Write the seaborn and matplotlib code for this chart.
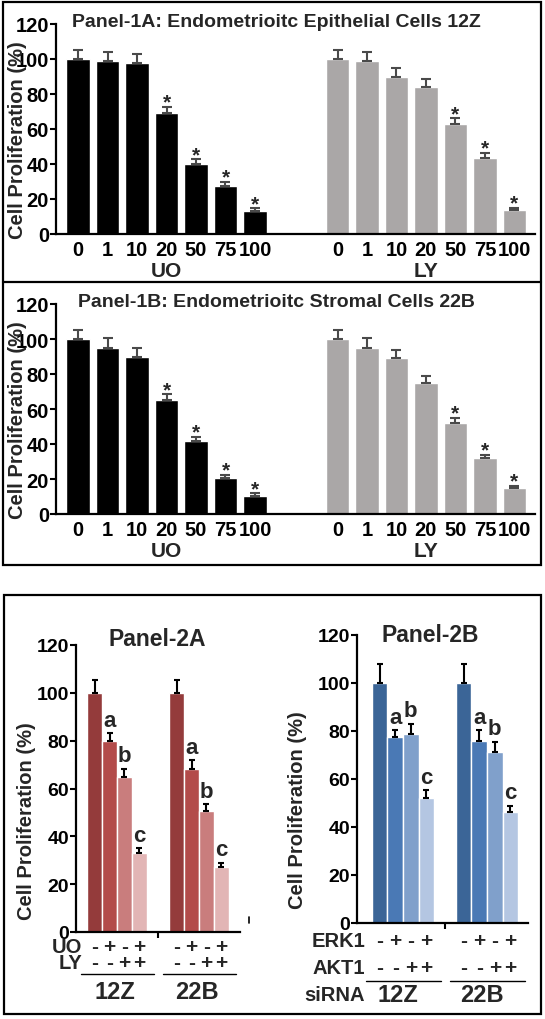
import numpy as np
import pandas as pd
import matplotlib
matplotlib.use('Agg')
import matplotlib.pyplot as plt
import matplotlib.transforms as mtransforms
from matplotlib.patches import Rectangle
from matplotlib.lines import Line2D
import seaborn as sns

sns.set_theme(style='ticks')
plt.rcParams['font.family'] = ['Liberation Sans', 'DejaVu Sans']
plt.rcParams['font.weight'] = 'bold'
plt.rcParams['axes.labelweight'] = 'bold'

# panel 1 : dose response, values in % of control
doses = ['0', '1', '10', '20', '50', '75', '100']

uo_12z = [100, 99, 98, 69, 40, 27.3, 13.3]
uo_12z_err = [5.3, 5, 5, 3.8, 2.6, 2.6, 1.3]
uo_12z_sig = ['', '', '', '*', '*', '*', '*']
ly_12z = [100, 99, 90, 84, 63, 43.5, 13.5]
ly_12z_err = [5.3, 5, 4.8, 4.8, 3.2, 2.8, 1.4]
ly_12z_sig = ['', '', '', '', '*', '*', '*']

uo_22b = [100, 95, 90, 65, 42, 20.4, 10.3]
uo_22b_err = [5.3, 5.4, 5, 3.5, 2.2, 1.9, 1.5]
uo_22b_sig = ['', '', '', '*', '*', '*', '*']
ly_22b = [100, 95, 89, 75, 52, 32, 15]
ly_22b_err = [5.3, 5.4, 5, 4, 3, 1.8, 1.2]
ly_22b_sig = ['', '', '', '', '*', '*', '*']

# panel 2 : combinations
lines = ['12Z', '22B']
conds = ['ctl', 'first', 'second', 'both']
uo_sign = ['-', '+', '-', '+']
ly_sign = ['-', '-', '+', '+']
letters = ['', 'a', 'b', 'c']

p2a_12z = [100, 80, 65, 33]
p2a_12z_err = [5.4, 3, 3.3, 2]
p2a_22b = [100, 68.2, 50.5, 27.2]
p2a_22b_err = [5.4, 3.6, 2.9, 1.8]

p2b_12z = [100, 77.7, 78.7, 52]
p2b_12z_err = [7.9, 2.7, 4.4, 3.4]
p2b_22b = [100, 75.7, 71.2, 46.3]
p2b_22b_err = [7.9, 4.6, 4.4, 2.5]

red_pal = ['#943b3b', '#b34b4a', '#c97d7d', '#e2b5b5']
blue_pal = ['#3b6597', '#4a79b5', '#80a0cb', '#b4c6e2']

W, H = 545, 1020
fig = plt.figure(figsize=(W / 100, H / 100), dpi=100)


def px_rect(left, top, right, bottom):
    return [left / W, 1 - bottom / H, (right - left) / W, (bottom - top) / H]


def px(x, y):
    return x / W, 1 - y / H


def style_axis(ax, fs=14):
    sns.despine(ax=ax)
    for s in ['left', 'bottom']:
        ax.spines[s].set_linewidth(1.6)
        ax.spines[s].set_color('black')
    ax.set_ylim(0, 120)
    ax.set_yticks(range(0, 121, 20))
    ax.tick_params(axis='y', length=4, width=1.5, pad=1, labelsize=fs, colors='black')
    for t in ax.get_yticklabels():
        t.set_fontweight('bold')


def dose_panel(ax, uo, uo_err, uo_sig, ly, ly_err, ly_sig, title):
    pos = np.r_[np.arange(len(doses)), np.arange(len(doses)) + 8.8]
    vals = uo + ly
    errs = uo_err + ly_err
    sigs = uo_sig + ly_sig
    df = pd.DataFrame({'pos': pos, 'value': vals,
                       'drug': ['UO'] * len(uo) + ['LY'] * len(ly)})
    sns.barplot(data=df, x='pos', y='value', hue='drug', native_scale=True,
                palette={'UO': 'black', 'LY': '#aaa7a7'}, dodge=False,
                width=0.8, saturation=1, errorbar=None, legend=False, ax=ax)
    ax.errorbar(pos, vals, yerr=[np.zeros(len(errs)), errs], fmt='none',
                ecolor='#4a4a4a', elinewidth=1.5, capsize=3.5, capthick=1.5)
    for p, v, e, s in zip(pos, vals, errs, sigs):
        if s:
            ax.text(p, v + e - 0.5, s, ha='center', va='baseline', fontsize=15)
    style_axis(ax, fs=14.5)
    ax.set_xlim(-0.75, 15.5)
    ax.set_xticks(pos)
    ax.set_xticklabels(doses * 2, fontsize=14.5, fontweight='bold')
    ax.tick_params(axis='x', length=0, pad=4, colors='black')
    ax.set_xlabel('')
    ax.set_ylabel('Cell Proliferation (%)', fontsize=14.5, labelpad=0)
    ax.yaxis.set_label_coords(-0.06, 0.45)
    tr = mtransforms.blended_transform_factory(ax.transData, ax.transAxes)
    ax.text(pos[:7].mean(), -0.175, 'UO', transform=tr, ha='center', va='center', fontsize=15)
    ax.text(pos[7:].mean(), -0.175, 'LY', transform=tr, ha='center', va='center', fontsize=15)
    ax.text(0.46, 1.013, title, transform=ax.transAxes, ha='center', va='center', fontsize=14)


ax1 = fig.add_axes(px_rect(56, 25, 535, 235))
dose_panel(ax1, uo_12z, uo_12z_err, uo_12z_sig, ly_12z, ly_12z_err, ly_12z_sig,
           'Panel-1A: Endometrioitc Epithelial Cells 12Z')
ax2 = fig.add_axes(px_rect(56, 305, 535, 515))
dose_panel(ax2, uo_22b, uo_22b_err, uo_22b_sig, ly_22b, ly_22b_err, ly_22b_sig,
           'Panel-1B: Endometrioitc Stromal Cells 22B')


def combo_panel(ax, v12, e12, v22, e22, palette, title, width, xlim, title_xy,
                row_names, row_y, under_y, name_y, name_dx, label_x, extra=None):
    df = pd.DataFrame({'line': ['12Z'] * 4 + ['22B'] * 4,
                       'cond': conds * 2, 'value': v12 + v22})
    sns.barplot(data=df, x='line', y='value', hue='cond', order=lines,
                hue_order=conds, palette=palette, width=width, saturation=1,
                errorbar=None, legend=False, ax=ax)
    ax.set_xlim(*xlim)
    bars = list(ax.containers)
    vals = [v12, v22]
    errs = [e12, e22]
    row_signs = [uo_sign, ly_sign]
    tr = mtransforms.blended_transform_factory(ax.transData, ax.transAxes)
    for i, cont in enumerate(bars):
        for j, bar in enumerate(cont):
            x = bar.get_x() + bar.get_width() / 2
            v, e = vals[j][i], errs[j][i]
            ax.errorbar([x], [v], yerr=[[0], [e]], fmt='none', ecolor='black',
                        elinewidth=1.5, capsize=2.5, capthick=1.5)
            if letters[i]:
                ax.text(x, v + e + 1, letters[i], ha='center', va='bottom', fontsize=16)
            for signs, yy in zip(row_signs, row_y):
                ax.text(x, yy, signs[i], transform=tr, ha='center', va='center', fontsize=15)
    for j, name in enumerate(lines):
        ax.add_line(Line2D([j - 0.44, j + 0.45], [under_y, under_y], transform=tr,
                           color='black', lw=1, clip_on=False))
        ax.text(j + name_dx, name_y, name, transform=tr, ha='center', va='center', fontsize=17)
    for name, yy in zip(row_names, row_y):
        ax.text(label_x, yy, name, transform=tr, ha='right', va='center', fontsize=14.5)
    if extra:
        ax.text(label_x, name_y, extra, transform=tr, ha='right', va='center', fontsize=14.5)
    style_axis(ax)
    ax.set_xticks([0.5])
    ax.set_xticklabels([''])
    ax.tick_params(axis='x', length=4, width=1.5, colors='black')
    ax.set_xlabel('')
    ax.set_ylabel('Cell Proliferation (%)', fontsize=14.5)
    ax.text(title_xy[0], title_xy[1], title, transform=ax.transAxes,
            ha='center', va='center', fontsize=16.5)


ax3 = fig.add_axes(px_rect(76, 646, 240, 933))
combo_panel(ax3, p2a_12z, p2a_12z_err, p2a_22b, p2a_22b_err, red_pal, 'Panel-2A', 0.73,
            (-0.5, 1.5), (0.494, 1.021),
            ['UO', 'LY'], [-0.052, -0.105], -0.146, -0.206, -0.03, -0.427)
ax3.yaxis.set_label_coords(-0.245, 0.39)

ax4 = fig.add_axes(px_rect(357, 636, 528, 924))
combo_panel(ax4, p2b_12z, p2b_12z_err, p2b_22b, p2b_22b_err, blue_pal, 'Panel-2B', 0.74,
            (-0.548, 1.488), (0.43, 1.0),
            ['ERK1', 'AKT1'], [-0.0625, -0.153], -0.201, -0.25, -0.06, -0.453,
            extra='siRNA')
ax4.yaxis.set_label_coords(-0.29, 0.395)

# frames around the two figure blocks
for (l, t, r, b) in [(3, 3, 541, 566), (4, 596, 541, 1015)]:
    x0, y0 = px(l, b)
    x1, y1 = px(r, t)
    fig.add_artist(Rectangle((x0, y0), x1 - x0, y1 - y0, transform=fig.transFigure,
                             fill=False, edgecolor='black', lw=1.6))
fig.add_artist(Line2D([px(3, 0)[0], px(541, 0)[0]], [px(0, 283)[1]] * 2,
                      transform=fig.transFigure, color='black', lw=1.6))
# small stray tick right of panel 2A, as in the original figure
fig.add_artist(Line2D([px(249, 0)[0]] * 2, [px(0, 918)[1], px(0, 924)[1]],
                      transform=fig.transFigure, color='black', lw=1.2))

fig.savefig('out.png', dpi=100)
